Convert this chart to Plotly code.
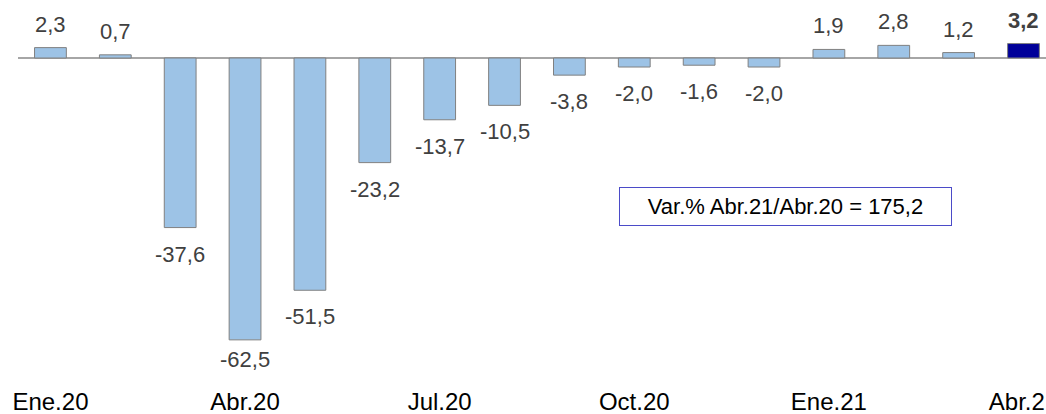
import plotly.graph_objects as go

months = ["Ene.20", "Feb.20", "Mar.20", "Abr.20", "May.20", "Jun.20", "Jul.20", "Ago.20",
          "Sep.20", "Oct.20", "Nov.20", "Dic.20", "Ene.21", "Feb.21", "Mar.21", "Abr.21"]
values = [2.3, 0.7, -37.6, -62.5, -51.5, -23.2, -13.7, -10.5, -3.8, -2.0, -1.6, -2.0, 1.9, 2.8, 1.2, 3.2]
tick_months = ["Ene.20", "Abr.20", "Jul.20", "Oct.20", "Ene.21", "Abr.21"]
box_text = "Var.% Abr.21/Abr.20 = 175,2"

LIGHT = "#9DC3E6"
DARK = "#000099"
colors = [LIGHT] * (len(values) - 1) + [DARK]

Y_MIN, Y_MAX = -70.07, 12.86
PLOT_H = 374
PX_PER_UNIT = PLOT_H / (Y_MAX - Y_MIN)
LABEL_FLOOR = -64.0  # labels of very deep bars are pushed up to stay inside the chart

fig = go.Figure()
fig.add_trace(go.Bar(
    x=months, y=values,
    marker=dict(color=colors, line=dict(color="#808080", width=1)),
    width=0.49,
    hoverinfo="skip",
))

FONT = "Liberation Sans, Arial, sans-serif"
for i, (m, v) in enumerate(zip(months, values)):
    txt = f"{v:.1f}".replace(".", ",")
    if i == len(values) - 1:
        txt = f"<b>{txt}</b>"
    if v >= 0:
        ya, ys = "bottom", 9
    else:
        ya = "top"
        ys = -12
        if v - 12 / PX_PER_UNIT < LABEL_FLOOR - 5 / PX_PER_UNIT:
            ys = -5
    fig.add_annotation(
        x=m, y=v, text=txt, showarrow=False,
        yanchor=ya, yshift=ys,
        font=dict(family=FONT, size=22, color="#404040"),
    )

fig.add_annotation(
    xref="paper", yref="paper", x=(785.5 - 18) / 1028, y=1 - 206.5 / PLOT_H,
    xanchor="center", yanchor="middle",
    text=box_text, showarrow=False,
    width=327, height=33, borderpad=2, borderwidth=1, bordercolor="#4B4BC8",
    bgcolor="white",
    font=dict(family=FONT, size=22, color="#000000"),
)

fig.update_layout(
    width=1046, height=414,
    margin=dict(l=18, r=0, t=0, b=40, autoexpand=False),
    paper_bgcolor="white", plot_bgcolor="white",
    showlegend=False,
    font=dict(family=FONT),
    xaxis=dict(
        type="category",
        range=[-0.5, 15.347],
        tickmode="array", tickvals=tick_months, ticktext=tick_months,
        ticks="", showgrid=False, showline=False, zeroline=False,
        tickfont=dict(family=FONT, size=24, color="#000000"),
        ticklabeloverflow="allow",
        ticklabelstandoff=11,
    ),
    yaxis=dict(
        range=[Y_MIN, Y_MAX],
        showticklabels=False, showgrid=False, showline=False,
        zeroline=True, zerolinecolor="#A6A6A6", zerolinewidth=1.5,
        ticks="",
    ),
)

fig.write_html(
    "out.html",
    config={"displayModeBar": False, "staticPlot": True},
    post_script="document.body.style.margin='0';document.body.style.overflow='hidden';",
)
